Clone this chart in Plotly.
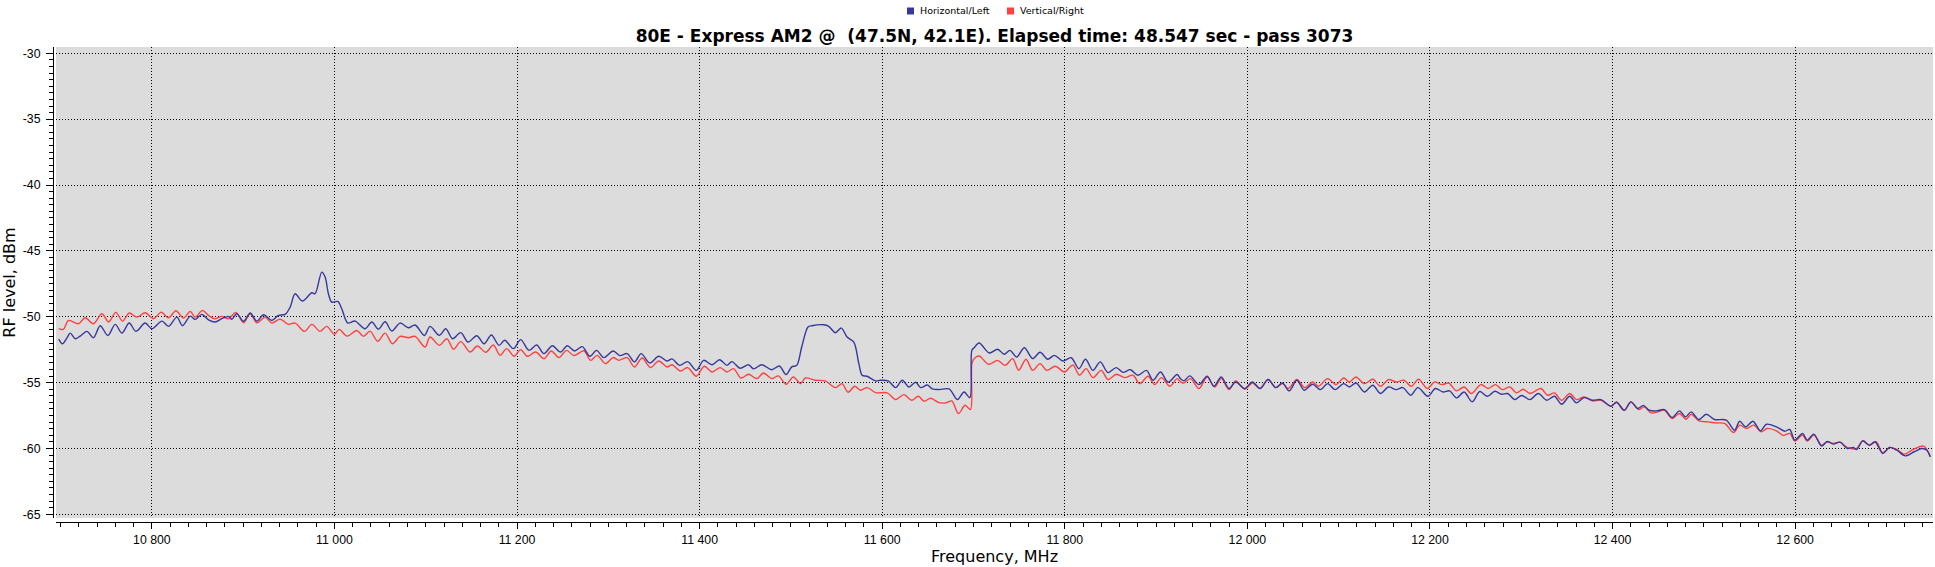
import plotly.graph_objects as go

# ---- data ----
freq_h = [10698, 10702, 10707, 10710.6, 10716, 10721.5, 10728.8, 10736, 10743.4, 10751.8, 10759.9, 10767.2,
          10775.2, 10782.5, 10792.7, 10800, 10811, 10818.2, 10827.4, 10833.6, 10842, 10847.4, 10854.7, 10862,
          10869.3, 10876.6, 10884, 10887.6, 10893, 10900.4, 10907.7, 10915, 10922.3, 10931.4, 10938.7, 10946,
          10951.5, 10956.9, 10965, 10975.2, 10978.8, 10986.1, 10989.8, 10993.4, 10997, 11003.6, 11008, 11014.6,
          11022.6, 11033.6, 11040.9, 11048.2, 11055.5, 11062.8, 11071.9, 11081, 11088.3, 11098.5, 11104.7,
          11114.8, 11122, 11129.3, 11138.4, 11146.4, 11155.9, 11163.9, 11171.9, 11180.3, 11186.5, 11196, 11204,
          11213.1, 11221.5, 11229.5, 11238.6, 11247.7, 11255, 11263, 11271.4, 11279.8, 11287.1, 11295.1, 11305.3,
          11312.6, 11320.6, 11328.6, 11335.9, 11345.4, 11355.2, 11364.3, 11369.8, 11378.1, 11386.9, 11396.4,
          11404.4, 11413.5, 11421.9, 11429.9, 11435.3, 11444.4, 11453.6, 11459, 11468.1, 11479, 11487.4, 11494.7,
          11500.9, 11506.4, 11511.8,
          11518.7, 11523.1, 11535.9, 11541.4, 11548.7, 11555.3, 11561.5, 11568.9, 11574.4, 11578, 11583.5,
          11592.7, 11598.2, 11606.6, 11614.7, 11622, 11629.3, 11636.6, 11642.1, 11649.5, 11654.9, 11662.3,
          11673.3, 11682.4, 11689.7, 11696, 11698.2, 11700.7, 11706.2, 11717.2, 11726.4, 11733.7, 11739.9,
          11747.3, 11755.7, 11764.8, 11772.9, 11781.3, 11788.6, 11797.8, 11807, 11815.4, 11822.7, 11830.8,
          11838.8, 11847.3, 11856.4, 11863.7, 11871.8, 11880.2, 11889.4, 11896.7, 11904.8, 11913.2, 11923.1,
          11926.7, 11930.4, 11937, 11946.9, 11956, 11963.4, 11971.4, 11979.9, 11987.2, 11997.1, 12005.5, 12013.9,
          12022.7, 12031.1, 12038.5, 12045.8, 12054.2, 12062.3, 12071.4, 12079.9, 12087.9, 12096, 12105.5,
          12111.7, 12119, 12128.2, 12137.4, 12145.8, 12154.6, 12163, 12170.3, 12178.8, 12186.8, 12197.8, 12205.9,
          12214.3, 12221.6, 12229, 12237.4, 12246.2, 12254.6, 12263, 12271.1, 12278.4, 12285, 12293, 12300.4,
          12309.5, 12318.7, 12327.8, 12336.3,
          12344.3, 12353.1, 12360.4, 12368.9, 12378, 12387.2, 12398.2, 12404.4, 12412.8, 12420.1, 12427.5,
          12433.7, 12440.3, 12447.6, 12456.8, 12465.2, 12473.3, 12479.9, 12486.1, 12494.5, 12502.6, 12511.7,
          12524.5, 12533.7, 12539.2, 12545.8, 12553.8, 12561.9, 12568.5, 12579.5, 12588.6, 12594.1, 12599.6,
          12608.1, 12613.2, 12620.5, 12628.9, 12635.2, 12641.8, 12649.1, 12657.1, 12663.7, 12667.4, 12674,
          12681.3, 12687.5, 12695.9, 12703.3, 12711.4, 12720.5, 12730.4, 12738.8, 12744.3, 12748]
level_h = [-51.7, -52.05, -51.6, -51.24, -51.67, -51.47, -51.11, -51.6, -50.68, -51.42, -50.58, -51.24,
           -50.48, -51.11, -50.48, -50.91, -50.33, -50.73, -50.03, -50.68, -49.95, -50.2, -49.82, -50.23,
           -50.4, -50.15, -49.97, -50.2, -49.77, -50.35, -49.72, -50.33, -49.85, -50.28, -49.9, -49.82,
           -49.27, -48.25, -48.81, -48.18, -48.25, -46.61, -46.99, -48.25, -48.89, -48.84, -49.39, -50.48,
           -50.33, -50.91, -50.4, -50.94, -50.38, -51.09, -50.48, -50.84, -50.63, -51.42, -50.73,
           -51.41, -50.91, -51.67, -51.21, -51.92, -51.44, -52.05, -51.39, -52.17, -51.79, -52.42, -51.74,
           -52.55, -52.15, -52.8, -52.2, -52.68, -52.2, -52.6, -52.27, -53.0, -52.55, -53.1, -52.6,
           -52.95, -52.8, -53.43, -52.8, -53.51, -53.0, -53.36, -53.2, -53.69, -53.41, -54.07,
           -53.31, -53.64, -53.26, -53.69, -53.41, -53.91, -53.64, -53.96, -53.64, -54.02, -53.74, -54.39,
           -53.81, -53.69, -52.3,
           -50.78, -50.68, -50.61, -50.73, -51.21, -50.86, -51.54, -51.92, -53.56, -54.44, -54.52,
           -54.87, -54.82, -54.87, -55.38, -54.82, -55.33, -54.97, -55.38, -55.18, -55.48, -55.53,
           -55.48, -56.29, -55.71, -56.14, -52.55, -52.35, -51.99, -52.75, -52.47, -52.85, -52.55,
           -53.06, -52.35, -53.18, -52.7, -53.23, -52.93, -53.36, -53.11, -53.94, -53.23, -54.07,
           -53.43, -54.24, -53.86, -54.22, -54.02, -54.44, -54.07, -54.82, -54.19, -54.97, -54.39,
           -54.7, -54.87, -54.49, -55.15, -54.52, -55.28, -54.57, -55.45, -54.95, -55.45, -54.95, -55.45,
           -54.77, -55.38, -55.03, -55.63, -54.82, -55.58, -55.13, -55.53, -55.08, -55.53, -55.08,
           -55.33, -55.03, -55.71, -55.2, -55.83, -55.33, -55.53, -55.38, -55.96, -55.38, -56.04, -55.45,
           -55.71, -55.63, -56.16, -55.71, -56.46, -55.68, -56.04, -55.66, -55.88, -55.83, -56.29, -55.98,
           -56.29, -55.83, -56.34, -56.04,
           -56.64, -56.04, -56.54, -56.14, -56.34, -56.29, -56.79, -56.49, -57.1, -56.46, -56.97,
           -56.74, -57.1, -57.15, -57.05, -57.65, -57.15, -57.6, -57.22, -57.8, -57.4, -57.8,
           -57.85, -58.61, -57.93, -58.36, -57.93, -58.66, -58.16, -58.36, -58.69, -58.56, -59.37,
           -58.86, -59.37, -58.91, -59.82, -59.47, -59.67, -59.52, -60.0, -59.92, -60.08, -59.42,
           -59.75, -59.49, -60.38, -59.92, -60.13, -60.56, -60.25, -60.0, -60.13, -60.63]

freq_v = [10698, 10703, 10708.8, 10719.7, 10727, 10736, 10745.3, 10752.6, 10760.6, 10767.9, 10775.2, 10783.6,
          10792.7, 10801.8, 10810.2, 10818.2, 10826.3, 10834.7, 10842, 10847.4, 10855.5, 10862, 10868.6,
          10876.6, 10884, 10892, 10900.4, 10907.7, 10915, 10924.1, 10931.4, 10940.5, 10949.6, 10956.9, 10967.2,
          10975.2, 10984.3, 10991.6, 11000, 11005.1, 11013.9, 11024.5, 11031.8, 11039, 11047.4, 11055.5,
          11063.5, 11071.9, 11081, 11088.3, 11099.3, 11104.7,
          11114.8, 11123.1, 11130.4, 11138.4, 11148.6, 11156.6, 11165.8, 11174.1, 11181.4, 11188.7, 11196.7,
          11204, 11211.3, 11220.4, 11229.5, 11237.5, 11245.9, 11254.3, 11262.3, 11273.2, 11280.5, 11287.8,
          11296.9, 11305.3, 11311.5, 11320.6, 11328.6, 11337, 11346.1, 11355.2, 11364.3, 11369.8, 11378.9,
          11386.9, 11396.4, 11405.1, 11413.5, 11422.6, 11429.9, 11437.2, 11445.2, 11453.6, 11462.7, 11470,
          11479, 11486.3, 11494.7, 11502.7, 11510.7,
          11515.8, 11526.7, 11537.7, 11548.7, 11556, 11562.6, 11569.9, 11576.2, 11583.5, 11592.7, 11605.5,
          11614.7, 11623.8, 11632.2, 11639.6, 11645.8, 11653.1, 11662.3, 11669.6, 11676.2, 11683.5, 11690.8,
          11696.7, 11698.2, 11700.7, 11706.2, 11716.5, 11726.4, 11734.8, 11742.9, 11749.5, 11757.5, 11764.8,
          11772.9, 11780.2, 11789.7, 11799.6, 11808.8, 11816.1, 11823.4, 11830.8, 11839.9, 11847.3, 11856.4,
          11865.6, 11874.7, 11882.1, 11891.2, 11898.5, 11905.9, 11915, 11923.1,
          11926.7, 11930.4, 11937.7, 11946.9, 11956, 11964.1, 11971.4, 11979.9, 11987.2, 11997.1, 12005.5,
          12013.9, 12022.7, 12031.1, 12038.5, 12044.7, 12054.2, 12063, 12071.4, 12077.7, 12087.9, 12097.1,
          12105.5, 12111.7, 12119, 12128.2, 12137.4, 12145.8, 12154.6, 12163, 12171.4, 12179.5, 12187.5,
          12197.1, 12205.1, 12213.2, 12220.5, 12229, 12237.4, 12245.4, 12255.7, 12263.7, 12271.8, 12279.1,
          12287.5, 12294.9, 12302.2, 12309.5, 12321.6, 12328.9, 12336.3,
          12344.3, 12353.1, 12360.4, 12368.9, 12378, 12387.2, 12398.2, 12404.4, 12412.8, 12420.1, 12428.6,
          12434.8, 12442.1, 12449.5, 12456.8, 12465.2, 12473.3, 12480.6, 12486.1, 12494.5, 12504.4, 12513.6,
          12522.7, 12532.6, 12539.2, 12546.5, 12554.6, 12563, 12569.2, 12579.5, 12586.8, 12594.1, 12599.6,
          12608.1, 12613.2, 12620.5, 12628.9, 12635.2, 12641.8, 12649.1, 12657.1, 12667.4, 12674, 12681.3,
          12688.6, 12695.9, 12704, 12711.4, 12719.4, 12727.8, 12740.7, 12748]
level_v = [-50.9, -50.96, -50.28, -50.53, -50.08, -50.53, -49.77, -50.4, -49.67, -50.33, -49.72, -50.03,
           -49.7, -50.15, -49.65, -50.08, -49.54, -50.1, -49.59, -50.03, -49.52, -49.9, -50.15,
           -49.97, -50.15, -49.67, -50.46, -49.77, -50.46, -50.03, -50.48, -50.18, -50.58, -50.48, -51.11,
           -50.58, -51.11, -50.73, -51.34, -50.96, -51.47, -51.04, -51.49, -51.09, -51.87, -51.24,
           -52.05, -51.49, -51.59, -51.49, -52.3, -51.54,
           -52.17, -51.67, -52.47, -51.89, -52.68, -52.22, -52.7, -52.15, -52.93, -52.42, -53.0,
           -52.5, -53.0, -52.68, -53.18, -52.6, -53.1, -52.55, -52.95, -52.58, -53.31, -52.93,
           -53.56, -53.1, -53.31, -53.1, -53.81, -53.13, -53.86, -53.36, -53.81, -53.64, -54.12,
           -53.86, -54.52, -53.76, -54.19, -53.86, -54.19, -53.94, -54.65, -54.37, -54.7, -54.27,
           -54.7, -54.49, -55.13, -54.57, -55.08,
           -54.65, -54.82, -54.87, -55.38, -55.08, -55.73, -55.28, -55.58, -55.38, -55.76, -55.78,
           -56.29, -55.91, -56.34, -56.04, -56.41, -56.19, -56.52, -56.54, -56.39, -57.35, -56.72,
           -57.05, -53.56, -53.18, -52.98, -53.61, -53.31, -53.69, -53.18, -54.07, -53.23, -54.07,
           -53.56, -54.07, -53.76, -54.19, -53.66, -54.44, -53.94, -54.62, -54.07, -54.77, -54.37,
           -54.62, -54.44, -55.08, -54.52, -55.15, -54.62, -55.28, -54.7,
           -54.95, -55.03, -54.7, -55.45, -54.57, -55.33, -54.7, -55.53, -54.87, -55.5, -55.03,
           -55.45, -54.77, -55.38, -55.08, -55.45, -54.77, -55.38, -54.95, -55.28, -54.7, -55.15,
           -54.65, -54.95, -54.57, -55.08, -54.75, -55.28, -54.77, -54.95, -54.82, -55.28, -54.75,
           -55.45, -54.95, -55.15, -55.03, -55.63, -55.33, -55.83, -55.15, -55.45, -55.15, -55.53,
           -55.33, -55.78, -55.5, -55.83, -55.45, -55.96, -55.78,
           -56.34, -55.83, -56.29, -56.09, -56.39, -56.34, -56.79, -56.49, -57.1, -56.46, -57.05,
           -56.84, -57.3, -57.22, -57.1, -57.73, -57.35, -57.78, -57.4, -57.9, -57.98, -58.06,
           -58.1, -58.79, -58.23, -58.48, -58.23, -58.74, -58.48, -58.66, -59.01, -58.86, -59.44,
           -58.99, -59.44, -58.99, -59.75, -59.49, -59.62, -59.52, -59.92, -60.0, -59.42, -59.75,
           -59.49, -60.33, -59.92, -60.08, -60.43, -60.13, -59.82, -60.63]

series_names = ["Horizontal/Left", "Vertical/Right"]
series_colors = ["#38389c", "#ff4040"]
title_text = "80E - Express AM2 @  (47.5N, 42.1E). Elapsed time: 48.547 sec - pass 3073"
x_title = "Frequency, MHz"
y_title = "RF level, dBm"
y_ticks = [-65, -60, -55, -50, -45, -40, -35, -30]

# ---- geometry (pixels) ----
W, H = 1935, 567
L, R, T, B = 53, 2, 47, 45
PW, PH = W - L - R, H - T - B


def px(xp):
    return (xp - L) / PW


def py(yp):
    return (H - B - yp) / PH


fig = go.Figure()
fig.add_trace(go.Scatter(x=freq_v, y=level_v, mode="lines", name=series_names[1],
                         line=dict(color=series_colors[1], width=1.4, shape="spline", smoothing=0.9)))
fig.add_trace(go.Scatter(x=freq_h, y=level_h, mode="lines", name=series_names[0],
                         line=dict(color=series_colors[0], width=1.4, shape="spline", smoothing=0.9)))

tickfont = dict(family="Liberation Sans, Arial", size=12.3, color="black")
titlefont = dict(family="DejaVu Sans", size=16, color="black")

fig.update_layout(
    width=W, height=H,
    margin=dict(l=L, r=R, t=T, b=B, autoexpand=False),
    paper_bgcolor="white", plot_bgcolor="#dcdcdc",
    showlegend=False, separators=". ",
    title=dict(text=title_text, x=px(994.5), xref="paper", xanchor="center",
               y=1 - 36 / H, yref="container", yanchor="middle",
               font=dict(family="DejaVu Sans", size=17, color="black", weight="bold"),
               automargin=False),
    xaxis=dict(domain=[3 / PW, 1], anchor="free", position=0,
               range=[10695, 12751], tickmode="linear", tick0=10800, dtick=200,
               tickformat=",d", tickfont=tickfont,
               showgrid=True, gridcolor="black", griddash="1px,2px", gridwidth=1,
               showline=True, linecolor="black", linewidth=1, zeroline=False,
               ticks="outside", ticklen=6, tickcolor="black", tickwidth=1,
               minor=dict(tick0=10700, dtick=20, ticks="outside", ticklen=4, tickcolor="black", showgrid=False),
               title=dict(text=x_title, font=titlefont, standoff=3), automargin=False),
    yaxis=dict(domain=[4 / PH, 1], anchor="free", position=0,
               range=[-65.28, -29.52], tickmode="array", tickvals=y_ticks,
               ticktext=[str(v) for v in y_ticks], tickfont=tickfont,
               showgrid=True, gridcolor="black", griddash="1px,2px", gridwidth=1,
               showline=True, linecolor="black", linewidth=1, zeroline=False,
               ticks="outside", ticklen=7, tickcolor="black", tickwidth=1, ticklabelstandoff=3,
               minor=dict(tickmode="linear", tick0=-65, dtick=0.5, ticks="outside", ticklen=4,
                          tickcolor="black", showgrid=False),
               title=dict(text=y_title, font=titlefont, standoff=3), automargin=False),
)

# manual legend (squares + labels) at the top
legend_x = [907, 1007]
for name, color, lx in zip(series_names, series_colors, legend_x):
    fig.add_shape(type="rect", xref="paper", yref="paper",
                  x0=px(lx), x1=px(lx + 7), y0=py(14.5), y1=py(7.5),
                  fillcolor=color, line=dict(width=0))
    fig.add_annotation(text=name, xref="paper", yref="paper", x=px(lx + 11), y=py(11),
                       xanchor="left", yanchor="middle", showarrow=False,
                       font=dict(family="DejaVu Sans", size=9.5, color="black"))

fig.write_html("out.html", config={"displayModeBar": False},
               post_script="document.body.style.margin='0px';document.body.style.overflow='hidden';")
